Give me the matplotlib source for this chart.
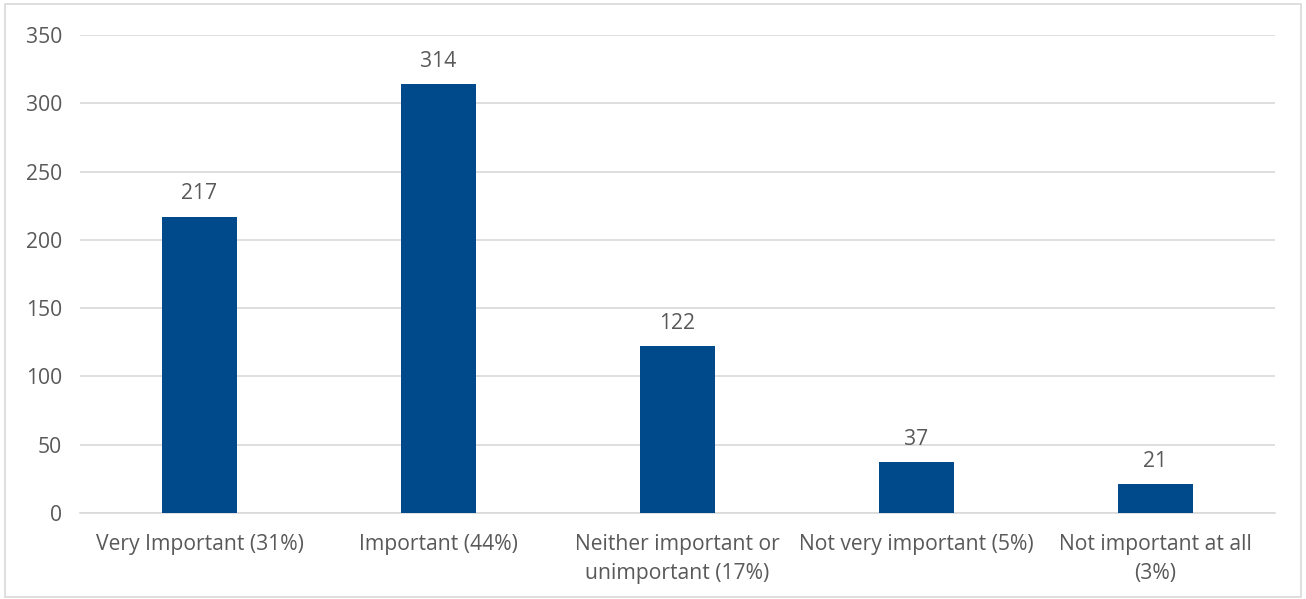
import matplotlib.pyplot as plt
import numpy as np

categories = ['Very Important (31%)', 'Important (44%)', 'Neither important or\nunimportant (17%)',
              'Not very important (5%)', 'Not important at all\n(3%)']
counts = [217, 314, 122, 37, 21]
y_ticks = [0, 50, 100, 150, 200, 250, 300, 350]

bar_color = '#004A8B'
text_color = '#595959'
grid_color = '#D9D9D9'
fs = 15.2

plt.rcParams['font.family'] = ['Open Sans', 'DejaVu Sans']

fig = plt.figure(figsize=(13.06, 5.99), dpi=100)
ax = fig.add_axes([0.0613, 0.1436, 0.9147, 0.798])

x = np.arange(len(categories))
bars = ax.bar(x, counts, width=0.315, color=bar_color, zorder=3)

for b, v in zip(bars, counts):
    ax.annotate(str(v), (b.get_x() + b.get_width() / 2, v), xytext=(0, 9),
                textcoords='offset points', ha='center', va='bottom',
                fontsize=fs, color=text_color)

ax.set_xlim(-0.5, len(categories) - 0.5)
ax.set_ylim(0, 350)
ax.set_yticks(y_ticks)
ax.set_xticks(x)
ax.set_xticklabels(categories, fontsize=fs, color=text_color, linespacing=1.5)
ax.tick_params(axis='y', labelsize=fs, labelcolor=text_color, length=0, pad=13)
ax.tick_params(axis='x', length=0, pad=15)

ax.yaxis.grid(True, color=grid_color, linewidth=1.2, zorder=0)
for s in ['top', 'right', 'left']:
    ax.spines[s].set_visible(False)
ax.spines['bottom'].set_color(grid_color)
ax.spines['bottom'].set_linewidth(1.2)

# outer frame like the source chart
fig.patches.append(plt.Rectangle((0.004, 0.004), 0.992, 0.99, transform=fig.transFigure,
                                 fill=False, edgecolor=grid_color, linewidth=1.2))

fig.savefig('out.png', dpi=100)
